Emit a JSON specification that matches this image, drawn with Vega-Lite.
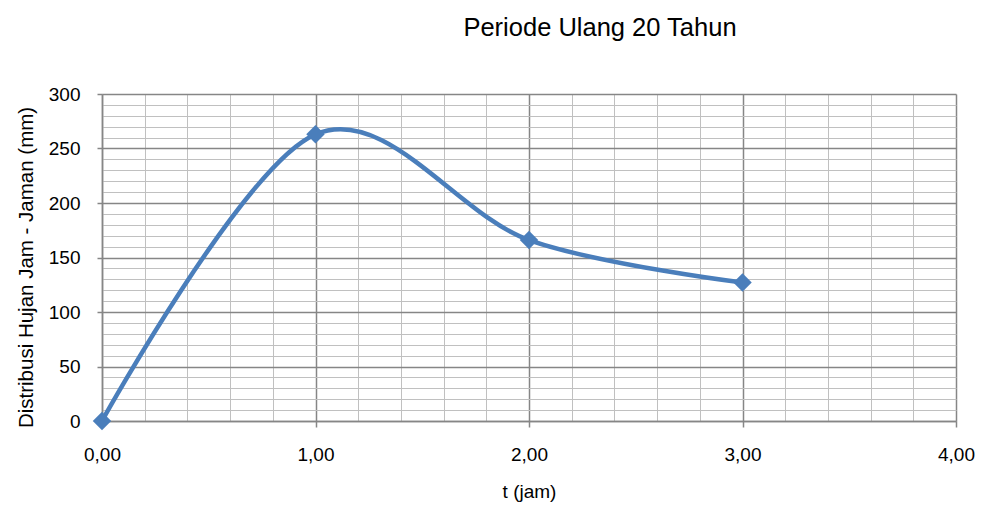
{
  "$schema": "https://vega.github.io/schema/vega-lite/v6.json",
  "width": 854,
  "height": 327,
  "autosize": "none",
  "padding": {"left": 102, "top": 94, "right": 26, "bottom": 85},
  "background": "white",
  "title": {
    "text": "Periode Ulang 20 Tahun",
    "frame": "group",
    "anchor": "middle",
    "dx": 71,
    "offset": 24,
    "baseline": "alphabetic",
    "font": "Liberation Sans",
    "fontSize": 25.5,
    "fontWeight": "normal",
    "color": "#000000"
  },
  "config": {
    "view": {"stroke": null},
    "font": "Liberation Sans"
  },
  "data": {
    "values": [
      {"t": 0, "hujan": 0},
      {"t": 1, "hujan": 263},
      {"t": 2, "hujan": 166},
      {"t": 3, "hujan": 127}
    ]
  },
  "mark": {
    "type": "line",
    "interpolate": "cardinal",
    "color": "#4A7EBB",
    "strokeWidth": 4.5,
    "point": {"shape": "diamond", "size": 340, "filled": true, "color": "#4A7EBB", "opacity": 1}
  },
  "encoding": {
    "x": {
      "field": "t",
      "type": "quantitative",
      "scale": {"domain": [0, 4], "nice": false, "zero": false},
      "axis": {
        "title": "t (jam)",
        "titleFont": "Liberation Sans",
        "titleFontSize": 19,
        "titleFontWeight": "normal",
        "titleColor": "#000000",
        "titlePadding": 18,
        "values": [0, 0.2, 0.4, 0.6, 0.8, 1, 1.2, 1.4, 1.6, 1.8, 2, 2.2, 2.4, 2.6, 2.8, 3, 3.2, 3.4, 3.6, 3.8, 4],
        "labelExpr": "datum.value % 1 === 0 ? replace(format(datum.value, '.2f'), '.', ',') : ''",
        "labelFont": "Liberation Sans",
        "labelFontSize": 19,
        "labelColor": "#000000",
        "labelPadding": 18,
        "labelOverlap": false,
        "labelFlush": false,
        "domainColor": "#868686",
        "domainWidth": 1.5,
        "tickSize": 6,
        "tickWidth": 1.5,
        "tickColor": "#868686",
        "tickOpacity": {"condition": {"test": "datum.value % 1 === 0", "value": 1}, "value": 0},
        "grid": true,
        "gridColor": {"condition": {"test": "datum.value % 1 === 0", "value": "#868686"}, "value": "#C0C0C0"},
        "gridWidth": {"condition": {"test": "datum.value % 1 === 0", "value": 1.5}, "value": 1}
      }
    },
    "y": {
      "field": "hujan",
      "type": "quantitative",
      "scale": {"domain": [0, 300], "nice": false},
      "axis": {
        "title": "Distribusi Hujan Jam - Jaman (mm)",
        "titleFont": "Liberation Sans",
        "titleFontSize": 20.5,
        "titleFontWeight": "normal",
        "titleColor": "#000000",
        "titlePadding": 12,
        "titleY": 173,
        "values": [0, 10, 20, 30, 40, 50, 60, 70, 80, 90, 100, 110, 120, 130, 140, 150, 160, 170, 180, 190, 200, 210, 220, 230, 240, 250, 260, 270, 280, 290, 300],
        "labelExpr": "datum.value % 50 === 0 ? datum.value : ''",
        "labelFont": "Liberation Sans",
        "labelFontSize": 19,
        "labelColor": "#000000",
        "labelPadding": 17,
        "labelOverlap": false,
        "labelFlush": false,
        "domainColor": "#868686",
        "domainWidth": 1.5,
        "tickSize": 5,
        "tickWidth": 1.5,
        "tickColor": "#868686",
        "tickOpacity": {"condition": {"test": "datum.value % 50 === 0", "value": 1}, "value": 0},
        "grid": true,
        "gridColor": {"condition": {"test": "datum.value % 50 === 0", "value": "#868686"}, "value": "#C0C0C0"},
        "gridWidth": {"condition": {"test": "datum.value % 50 === 0", "value": 1.5}, "value": 1}
      }
    }
  }
}
